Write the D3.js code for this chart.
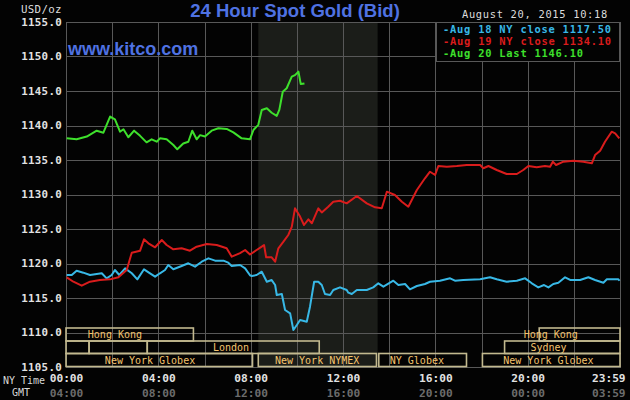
<!DOCTYPE html>
<html>
<head>
<meta charset="utf-8">
<script src="https://cdn.jsdelivr.net/npm/d3@7"></script>
<style>
  html, body { margin: 0; padding: 0; background: #000; }
  svg { display: block; }
</style>
</head>
<body>
<div id="chart"></div>
<script>
// ---------------- DATA ----------------
const chartTitle = "24 Hour Spot Gold (Bid)";
const siteLabel = "www.kitco.com";
const dateLabel = "August 20, 2015 10:18";
const unitLabel = "USD/oz";

const yTicks = [1155, 1150, 1145, 1140, 1135, 1130, 1125, 1120, 1115, 1110, 1105];
const xTickHours = [0, 4, 8, 12, 16, 20, 23.983];
const nyTimeLabels = ["00:00", "04:00", "08:00", "12:00", "16:00", "20:00", "23:59"];
const gmtLabels = ["04:00", "08:00", "12:00", "16:00", "20:00", "00:00", "03:59"];
const gridHours = [0, 2, 4, 6, 8, 10, 12, 14, 16, 18, 20, 22, 24];

// NYMEX session shading (hours, NY time)
const shadeHours = [8.33, 13.5];

// Aug 18 (NY close 1117.50)
const aug18Hours = [0.03,0.25,0.46,0.75,1.04,1.33,1.55,1.76,1.98,2.12,2.31,2.56,2.85,3.09,3.38,3.64,3.86,4.07,4.29,4.43,4.65,5.01,5.30,5.59,5.88,6.17,6.46,6.82,7.03,7.18,7.54,7.76,7.97,8.05,8.26,8.48,8.70,8.91,9.06,9.13,9.35,9.49,9.71,9.85,10.00,10.14,10.43,10.57,10.75,10.93,11.08,11.22,11.44,11.58,11.87,12.16,12.23,12.38,12.60,13.03,13.31,13.53,13.75,14.18,14.40,14.69,14.90,15.20,15.55,15.77,16.20,16.64,16.85,17.21,17.94,18.37,18.66,19.09,19.53,19.89,20.18,20.46,20.71,20.90,21.11,21.33,21.62,21.84,22.27,22.63,22.92,23.28,23.43,23.93,23.98];
const aug18Values = [1118.33,1118.33,1118.96,1118.67,1118.33,1118.48,1118.58,1117.85,1118.33,1119.06,1118.33,1119.3,1118.58,1117.7,1119.16,1118.58,1118.09,1118.58,1119.06,1119.78,1119.16,1119.64,1120.03,1119.54,1120.26,1120.75,1120.41,1120.41,1120.12,1119.64,1119.78,1119.3,1118.3,1118.19,1118.33,1118.81,1117.36,1117.6,1116.88,1115.43,1115.58,1113.26,1112.78,1110.36,1111.09,1111.81,1111.57,1113.74,1117.36,1117.36,1116.88,1115.58,1115.43,1116.16,1116.54,1116.16,1115.77,1115.58,1116.16,1116.16,1116.54,1117.13,1116.64,1117.51,1116.88,1117.03,1116.26,1116.74,1117.03,1117.36,1117.51,1117.85,1117.51,1117.61,1117.71,1118.0,1117.71,1117.36,1117.51,1117.85,1117.13,1116.54,1116.88,1116.54,1117.03,1117.22,1118.0,1117.61,1117.61,1118.0,1117.61,1117.22,1117.71,1117.71,1117.5];

// Aug 19 (NY close 1134.10)
const aug19Hours = [0.03,0.32,0.68,1.04,1.47,1.91,2.27,2.63,2.85,3.21,3.38,3.57,3.86,4.15,4.36,4.65,5.01,5.37,5.66,6.10,6.53,6.96,7.18,7.54,7.76,7.97,8.26,8.48,8.58,8.67,8.91,9.06,9.20,9.42,9.63,9.78,9.92,10.14,10.31,10.50,10.65,10.93,11.08,11.36,11.58,11.87,12.16,12.60,13.03,13.39,13.68,13.90,14.25,14.55,14.83,15.20,15.55,15.77,15.99,16.13,16.50,16.93,17.36,17.94,18.08,18.30,18.66,19.09,19.53,19.81,20.03,20.39,20.75,20.97,21.09,21.23,21.55,21.98,22.41,22.78,22.92,23.14,23.35,23.64,23.79,23.97];
const aug19Values = [1118.0,1117.36,1116.78,1117.36,1117.6,1117.7,1118.0,1119.06,1121.57,1121.86,1123.5,1122.93,1122.35,1123.4,1122.68,1122.06,1122.2,1121.86,1122.44,1122.83,1122.68,1122.2,1120.99,1121.5,1121.96,1121.3,1121.96,1122.44,1122.68,1120.9,1120.9,1120.26,1122.2,1123.16,1124.13,1125.3,1128.0,1126.8,1125.58,1126.4,1125.83,1128.0,1127.4,1128.23,1128.96,1129.1,1128.72,1129.78,1128.72,1128.14,1128.0,1130.41,1129.93,1128.96,1128.23,1130.65,1132.35,1133.3,1132.83,1134.13,1134.03,1134.13,1134.28,1134.28,1133.8,1134.13,1133.55,1132.97,1132.97,1133.55,1134.13,1133.94,1134.13,1134.03,1134.76,1134.28,1134.76,1134.9,1134.76,1134.52,1135.72,1136.35,1137.65,1139.1,1138.87,1138.14];

// Aug 20 (Last 1146.10)
const aug20Hours = [0.03,0.46,0.90,1.33,1.62,1.91,2.12,2.34,2.49,2.70,2.95,3.21,3.49,3.71,3.93,4.07,4.36,4.65,4.82,5.08,5.30,5.47,5.66,5.81,6.02,6.31,6.60,6.96,7.25,7.61,7.97,8.12,8.33,8.48,8.70,8.91,9.13,9.24,9.39,9.56,9.78,9.92,10.07,10.17,10.33];
const aug20Values = [1138.14,1138.0,1138.4,1139.25,1138.96,1141.3,1140.9,1139.1,1139.45,1138.3,1139.25,1138.5,1137.56,1138.0,1137.65,1138.14,1138.0,1137.17,1136.55,1137.4,1137.65,1139.25,1138.0,1138.6,1138.4,1139.25,1139.6,1139.5,1139.0,1138.14,1138.0,1139.35,1140.1,1142.25,1142.5,1141.85,1141.4,1142.25,1144.9,1145.4,1147.07,1147.3,1147.8,1146.0,1146.1];

const seriesNames = ["Aug 18 NY close 1117.50", "Aug 19 NY close 1134.10", "Aug 20 Last 1146.10"];
const seriesColors = ["#38b8e6", "#d91c1c", "#3ee02c"];

// Market sessions: row (0 top .. 2 bottom), start hour, end hour, label, label hour
const sessionRows   = [0, 0, 1, 1, 1, 1, 2, 2, 2, 2];
const sessionStarts = [0, 20.5, 0, 1.0, 3.52, 19.0, 0, 8.33, 13.55, 18.04];
const sessionEnds   = [5.52, 24, 1.0, 3.52, 10.97, 24, 8.08, 13.45, 17.35, 24];
const sessionNames  = ["Hong Kong", "Hong Kong", "", "", "London", "Sydney", "New York Globex", "New York NYMEX", "NY Globex", "New York Globex"];
const sessionLabelHours = [2.12, 21.0, null, null, 7.15, 20.9, 3.64, 10.88, 15.2, 20.9];

// ---------------- DRAW ----------------
const W = 630, H = 400;
const X0 = 66, X1 = 620, Y0 = 22, Y1 = 367;
const mono = "'DejaVu Sans Mono', monospace";
const sans = "'Liberation Sans', Arial, sans-serif";

const svg = d3.select("#chart").append("svg")
  .attr("width", W).attr("height", H)
  .style("background", "#030303");

const x = d3.scaleLinear().domain([0, 24]).range([X0, X1]);
const y = d3.scaleLinear().domain([1105, 1155]).range([Y1, Y0]);

// shading
svg.append("rect")
  .attr("x", x(shadeHours[0])).attr("y", Y0)
  .attr("width", x(shadeHours[1]) - x(shadeHours[0]))
  .attr("height", Y1 - Y0)
  .attr("fill", "#1b1d19");

// grid
const grid = svg.append("g").attr("stroke", "#585858").attr("stroke-width", 1);
grid.selectAll("line.v").data(gridHours).join("line")
  .attr("class", "v")
  .attr("x1", d => Math.round(x(d)) + 0.5).attr("x2", d => Math.round(x(d)) + 0.5)
  .attr("y1", Y0).attr("y2", Y1);
grid.selectAll("line.h").data(yTicks).join("line")
  .attr("class", "h")
  .attr("x1", X0).attr("x2", X1 + 1)
  .attr("y1", d => Math.round(y(d)) + 0.5).attr("y2", d => Math.round(y(d)) + 0.5);

// y axis labels
const yAxis = svg.append("g")
  .attr("transform", `translate(${X0},0)`)
  .call(d3.axisLeft(y).tickValues(yTicks).tickFormat(d3.format(".1f")).tickSize(0).tickPadding(4));
yAxis.select(".domain").remove();
yAxis.selectAll("text")
  .attr("fill", "#e2e2e2")
  .style("font-family", mono).style("font-size", "10.8px").style("font-weight", "bold")
  .style("letter-spacing", "0.3px");

// x axis labels (NY time)
const xAxisNY = svg.append("g")
  .attr("transform", `translate(0,${Y1})`)
  .call(d3.axisBottom(x).tickValues(xTickHours).tickFormat((d, i) => nyTimeLabels[i]).tickSize(0).tickPadding(7));
xAxisNY.select(".domain").remove();
xAxisNY.selectAll("text")
  .attr("fill", "#e2e2e2")
  .style("font-family", mono).style("font-size", "11.2px").style("font-weight", "bold");

const xAxisGMT = svg.append("g")
  .attr("transform", `translate(0,${Y1 + 15})`)
  .call(d3.axisBottom(x).tickValues(xTickHours).tickFormat((d, i) => gmtLabels[i]).tickSize(0).tickPadding(7));
xAxisGMT.select(".domain").remove();
xAxisGMT.selectAll("text")
  .attr("fill", "#6c6c6c")
  .style("font-family", mono).style("font-size", "11.2px").style("font-weight", "bold");

[xAxisNY, xAxisGMT].forEach(g => {
  const n = xTickHours.length;
  g.selectAll(".tick").filter((d, i) => i === n - 1).select("text")
    .attr("text-anchor", "end").attr("dx", 5.5);
});

svg.append("text").attr("x", 24).attr("y", 384)
  .attr("text-anchor", "middle").attr("fill", "#d8d8d8")
  .style("font-family", mono).style("font-size", "10px")
  .text("NY Time");
svg.append("text").attr("x", 21).attr("y", 396)
  .attr("text-anchor", "middle").attr("fill", "#d8d8d8")
  .style("font-family", mono).style("font-size", "10px")
  .text("GMT");

// sessions
const rowTop = [328, 341, 353.5];
const rowBot = [341, 353.5, 366.5];
const sess = svg.append("g");
sessionRows.forEach((r, i) => {
  sess.append("rect")
    .attr("x", x(sessionStarts[i])).attr("y", rowTop[r])
    .attr("width", x(sessionEnds[i]) - x(sessionStarts[i]))
    .attr("height", rowBot[r] - rowTop[r])
    .attr("fill", "none").attr("stroke", "#c2b98f").attr("stroke-width", 1.6);
  if (sessionNames[i]) {
    sess.append("text")
      .attr("x", x(sessionLabelHours[i])).attr("y", (rowTop[r] + rowBot[r]) / 2 + 3.8)
      .attr("text-anchor", "middle").attr("fill", "#f5c46e")
      .style("font-family", mono).style("font-size", "10px")
      .text(sessionNames[i]);
  }
});

// lines
const line = d3.line().x(d => x(d[0])).y(d => y(d[1]));
const seriesData = [
  d3.zip(aug18Hours, aug18Values),
  d3.zip(aug19Hours, aug19Values),
  d3.zip(aug20Hours, aug20Values)
];
svg.append("g").selectAll("path").data(seriesData).join("path")
  .attr("d", line)
  .attr("fill", "none")
  .attr("stroke", (d, i) => seriesColors[i])
  .attr("stroke-width", 2)
  .attr("stroke-linejoin", "round");

// legend box
const lg = svg.append("g");
lg.append("rect").attr("x", 436.5).attr("y", 22.5).attr("width", 183).attr("height", 39)
  .attr("fill", "#030303").attr("stroke", "#585858").attr("stroke-width", 1);
seriesNames.forEach((n, i) => {
  lg.append("text")
    .attr("x", 443).attr("y", 32.5 + i * 12.2)
    .attr("fill", seriesColors[i])
    .style("font-family", mono).style("font-size", "10.4px").style("font-weight", "bold")
    .style("letter-spacing", "0.78px")
    .text("-" + n);
});

// titles
svg.append("text").attr("x", 295).attr("y", 17)
  .attr("text-anchor", "middle").attr("fill", "#4f72e2")
  .style("font-family", sans).style("font-size", "18.5px").style("font-weight", "bold")
  .text(chartTitle);
svg.append("text").attr("x", 68).attr("y", 55)
  .attr("fill", "#4f72e2")
  .style("font-family", sans).style("font-size", "18px").style("font-weight", "bold")
  .text(siteLabel);
svg.append("text").attr("x", 608).attr("y", 18)
  .attr("text-anchor", "end").attr("fill", "#dcdcdc")
  .style("font-family", mono).style("font-size", "10.4px")
  .style("letter-spacing", "0.7px")
  .text(dateLabel);
svg.append("text").attr("x", 21).attr("y", 13)
  .attr("fill", "#dcdcdc")
  .style("font-family", mono).style("font-size", "10.8px")
  .style("letter-spacing", "0.3px")
  .text(unitLabel);
</script>
</body>
</html>
